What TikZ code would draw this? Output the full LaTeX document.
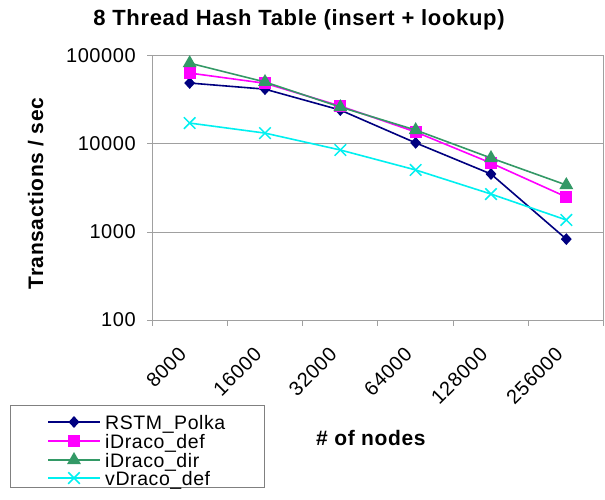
\documentclass[tikz,border=0pt]{standalone}
\usepackage{fontspec}
\setmainfont{Liberation Sans}
\newfontfamily\chartfont[LetterSpace=3]{Liberation Sans}
\usetikzlibrary{shapes.geometric,shapes.misc}
\definecolor{rstm}{HTML}{000080}
\definecolor{idef}{HTML}{FF00FF}
\definecolor{idir}{HTML}{339966}
\definecolor{vdef}{HTML}{00F0F0}
\definecolor{axisgray}{HTML}{A0A0A0}
\definecolor{boxgray}{HTML}{808080}

\begin{document}
\begin{tikzpicture}[x=1pt,y=1pt,
  ticklabel/.style={font=\chartfont\fontsize{20}{20}\selectfont, inner sep=0pt},
  titlelabel/.style={font=\chartfont\bfseries\fontsize{22}{22}\selectfont, inner sep=0pt},
  axislabel/.style={font=\chartfont\bfseries\fontsize{21}{21}\selectfont, inner sep=0pt},
  leglabel/.style={font=\chartfont\fontsize{19.5}{19.5}\selectfont, inner sep=0pt, anchor=base west},
  serline/.style={line width=1.6pt},
  mkdia/.style={diamond, fill=rstm, inner sep=0pt, minimum width=11pt, minimum height=12pt},
  mksq/.style={rectangle, fill=idef, inner sep=0pt, minimum size=12pt},
  mktri/.style={regular polygon, regular polygon sides=3, fill=idir, inner sep=0pt, minimum size=16pt},
  mkx/.style={cross out, draw=vdef, line width=1.5pt, inner sep=0pt, minimum size=10pt},
]
\useasboundingbox (0,0) rectangle (605,499);
\fill[white] (0,0) rectangle (605,499);

% title
\node[titlelabel, anchor=base] (title) at (299,473) {8 Thread Hash Table (insert + lookup)};

% axis titles
\node[axislabel, anchor=base, rotate=90] (ylab) at (43,305.5) {Transactions / sec};
\node[axislabel, anchor=base west] (xlab) at (316,54) {\# of nodes};

% plot area: x in categories, y in decades above 100
\begin{scope}[shift={(152pt,179pt)}, x=75.33pt, y=88pt]
  \draw[axisgray, line width=1pt] (0,0) rectangle (6,3);
  \foreach \k in {1,2} \draw[axisgray, line width=1pt] (0,\k) -- (6,\k);
  \foreach \k in {0,...,3} \draw[axisgray, line width=1pt] (0,\k) -- ++(-5pt,0);
  \foreach \i in {0,...,6} \draw[axisgray, line width=1pt] (\i,0) -- ++(0,-6pt);

  \foreach \k/\lab in {0/100,1/1000,2/10000,3/100000}
    \node[ticklabel, anchor=base east] (yt\k) at ([xshift=-16pt,yshift=-6.5pt]0,\k) {\lab};
  \foreach \i/\lab in {1/8000,2/16000,3/32000,4/64000,5/128000,6/256000}
    \node[ticklabel, anchor=east, rotate=45] (xt\i) at ([xshift=-7pt,yshift=-31pt]{\i-0.5},0) {\lab};

  % data, values in thousands of transactions / sec
  \foreach \v [count=\i] in {49.3,42,24.3,10.3,4.56,0.83}
    \coordinate (r\i) at ({\i-0.5},{ln(\v)/ln(10)+1});
  \foreach \v [count=\i] in {64,49,27,13.7,6.08,2.5}
    \coordinate (d\i) at ({\i-0.5},{ln(\v)/ln(10)+1});
  \foreach \v [count=\i] in {83,50.7,26.3,14.4,6.93,3.42}
    \coordinate (t\i) at ({\i-0.5},{ln(\v)/ln(10)+1});
  \foreach \v [count=\i] in {17.3,13.3,8.55,5.07,2.7,1.37}
    \coordinate (v\i) at ({\i-0.5},{ln(\v)/ln(10)+1});

  \draw[serline, rstm] (r1) -- (r2) -- (r3) -- (r4) -- (r5) -- (r6);
  \foreach \i in {1,...,6} \node[mkdia] (rm\i) at (r\i) {};
  \draw[serline, idef] (d1) -- (d2) -- (d3) -- (d4) -- (d5) -- (d6);
  \foreach \i in {1,...,6} \node[mksq] (dm\i) at (d\i) {};
  \draw[serline, idir] (t1) -- (t2) -- (t3) -- (t4) -- (t5) -- (t6);
  \foreach \i in {1,...,6} \node[mktri] (tm\i) at (t\i) {};
  \draw[serline, vdef] (v1) -- (v2) -- (v3) -- (v4) -- (v5) -- (v6);
  \foreach \i in {1,...,6} \node[mkx] (vm\i) at (v\i) {};
\end{scope}

% legend
\draw[boxgray, line width=1pt] (10,12) rectangle (264,94);
\foreach \y/\nm/\col/\mk/\lab in {77/la/rstm/mkdia/RSTM\_Polka, 58/lb/idef/mksq/iDraco\_def,
    39/lc/idir/mktri/iDraco\_dir, 21/ld/vdef/mkx/vDraco\_def} {
  \coordinate (\nm s) at (48,\y);
  \coordinate (\nm e) at (100,\y);
  \draw[serline, \col] (\nm s) -- (\nm e);
  \node[\mk] (\nm m) at (74,\y) {};
  \node[leglabel] (\nm t) at (105,\y-7) {\lab};
}
\end{tikzpicture}
\end{document}
